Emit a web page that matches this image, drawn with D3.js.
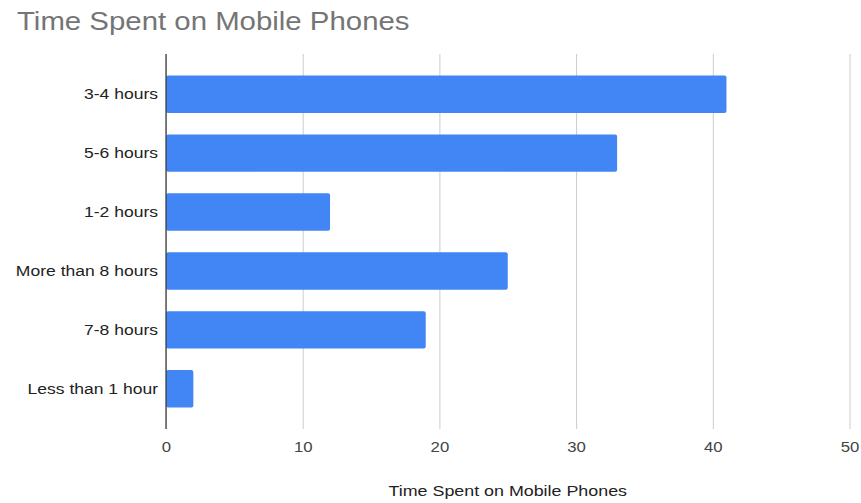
<!DOCTYPE html>
<html>
<head>
<meta charset="utf-8">
<script src="https://cdn.jsdelivr.net/npm/d3@7"></script>
<style>
  html, body { margin: 0; padding: 0; background: #fff; }
  svg { display: block; font-family: "Liberation Sans", Arial, sans-serif; }
</style>
</head>
<body>
<svg id="chart" width="861" height="503"></svg>
<script>
const categories = ["3-4 hours", "5-6 hours", "1-2 hours", "More than 8 hours", "7-8 hours", "Less than 1 hour"];
const values = [41, 33, 12, 25, 19, 2];
const xTicks = [0, 10, 20, 30, 40, 50];
const chartTitle = "Time Spent on Mobile Phones";
const xAxisTitle = "Time Spent on Mobile Phones";

const svg = d3.select("#chart");
const plotLeft = 166, plotRight = 849.5, plotTop = 54, plotBottom = 429;
const stretch = 1.14; // the reference text is slightly wider than its height suggests

const x = d3.scaleLinear().domain([0, 50]).range([plotLeft, plotRight]);
const y = d3.scaleBand().domain(categories).range([plotTop, plotBottom]).padding(0.365);

function widen(sel, factor) {
  sel.each(function () {
    const w = this.getComputedTextLength();
    d3.select(this).attr("textLength", w * factor).attr("lengthAdjust", "spacingAndGlyphs");
  });
}

// gridlines
svg.append("g")
  .attr("transform", `translate(0,${plotBottom})`)
  .call(d3.axisBottom(x).tickValues(xTicks).tickSize(-(plotBottom - plotTop)).tickFormat(""))
  .call(g => g.select(".domain").remove())
  .call(g => g.selectAll(".tick line").attr("stroke", "#cccccc").attr("stroke-width", 1));

// bars
svg.append("g").selectAll("rect")
  .data(categories)
  .join("rect")
  .attr("x", x(0))
  .attr("y", d => y(d))
  .attr("width", (d, i) => x(values[i]) - x(0))
  .attr("height", y.bandwidth())
  .attr("rx", 2)
  .attr("fill", "#4285f4");

// zero baseline
svg.append("line")
  .attr("x1", x(0)).attr("x2", x(0))
  .attr("y1", plotTop).attr("y2", plotBottom)
  .attr("stroke", "#333").attr("stroke-width", 1.2);

// x axis labels
svg.append("g")
  .attr("transform", `translate(0,${plotBottom})`)
  .call(d3.axisBottom(x).tickValues(xTicks).tickSize(0).tickPadding(12).tickFormat(d3.format("d")))
  .call(g => g.select(".domain").remove())
  .call(g => g.selectAll("text")
    .attr("font-family", "Liberation Sans, Arial, sans-serif")
    .attr("font-size", "15.5px")
    .attr("fill", "#444")
    .call(widen, 1.08));

// y axis labels
svg.append("g")
  .attr("transform", `translate(${plotLeft},0)`)
  .call(d3.axisLeft(y).tickSize(0).tickPadding(8))
  .call(g => g.select(".domain").remove())
  .call(g => g.selectAll("text")
    .attr("font-family", "Liberation Sans, Arial, sans-serif")
    .attr("font-size", "15.5px")
    .attr("fill", "#222")
    .call(widen, 1.13));

// title
svg.append("text")
  .attr("x", 17).attr("y", 30)
  .attr("font-size", "26px")
  .attr("fill", "#757575")
  .text(chartTitle)
  .call(widen, 1.13);

// axis title
svg.append("text")
  .attr("x", (plotLeft + plotRight) / 2).attr("y", 495.5)
  .attr("text-anchor", "middle")
  .attr("font-size", "15px")
  .attr("fill", "#222")
  .text(xAxisTitle)
  .call(widen, 1.19);
</script>
</body>
</html>
